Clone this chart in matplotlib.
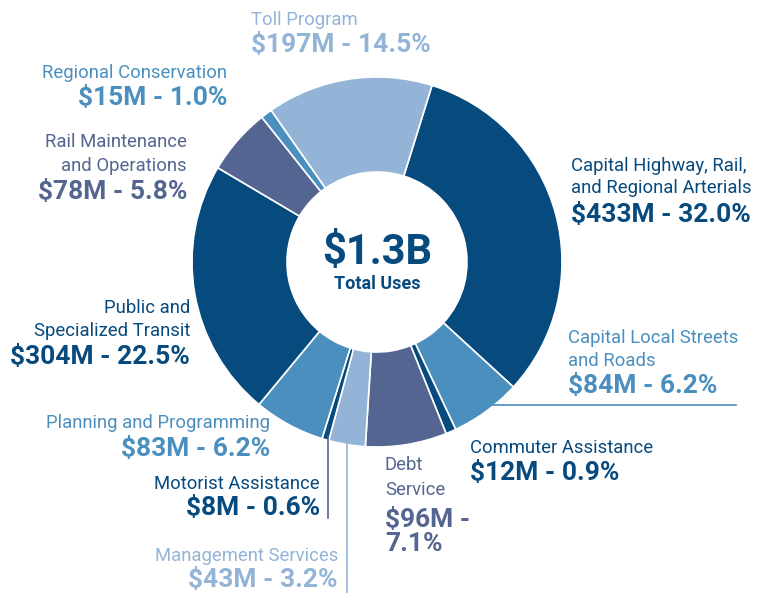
import matplotlib.pyplot as plt
from matplotlib import font_manager

# donut data, clockwise from the top
labels = ["Capital Highway, Rail,\nand Regional Arterials", "Capital Local Streets\nand Roads",
          "Commuter Assistance", "Debt\nService", "Management Services", "Motorist Assistance",
          "Planning and Programming", "Public and\nSpecialized Transit",
          "Rail Maintenance\nand Operations", "Regional Conservation", "Toll Program"]
amounts = ["$433M", "$84M", "$12M", "$96M", "$43M", "$8M", "$83M", "$304M", "$78M", "$15M", "$197M"]
shares = [32.0, 6.2, 0.9, 7.1, 3.2, 0.6, 6.2, 22.5, 5.8, 1.0, 14.5]

NAVY = "#074a7d"
MID = "#4a8fbe"
LIGHT = "#93b4d6"
SLATE = "#536590"
colors = [NAVY, MID, NAVY, SLATE, LIGHT, NAVY, MID, NAVY, SLATE, MID, LIGHT]

names = {f.name for f in font_manager.fontManager.ttflist}
fam = "Liberation Sans Narrow" if "Liberation Sans Narrow" in names else "Roboto"
plt.rcParams['font.family'] = [fam, 'DejaVu Sans']

W, H = 762, 593
fig = plt.figure(figsize=(W / 100, H / 100), dpi=100)
ax = fig.add_axes([0, 0, 1, 1])

cx, cy = 377, H - 262
ax.pie(shares, colors=colors, startangle=72.7, counterclock=False,
       center=(cx, cy), radius=185, frame=True,
       wedgeprops=dict(width=95, edgecolor='white', linewidth=1.2))
ax.set_xlim(0, W)
ax.set_ylim(0, H)
ax.set_aspect('equal')
ax.axis('off')

ax.text(cx, H - 252, "$1.3B", ha='center', va='center', fontsize=30, fontweight='bold', color=NAVY)
ax.text(cx, H - 284, "Total Uses", ha='center', va='center', fontsize=13, fontweight='bold', color=NAVY)

# label placement: x, alignment, y of each line (pixels from top)
place = [
    (571, 'left', [166, 188], 215),
    (568, 'left', [338, 361], 386),
    (470, 'left', [448], 473),
    (385, 'left', [465, 490], 532),
    (338, 'right', [556], 580),
    (320, 'right', [484], 508),
    (270, 'right', [423], 449),
    (190, 'right', [308, 331], 357),
    (187, 'right', [142, 166], 192),
    (227, 'right', [73], 98),
    (251, 'left', [20], 45),
]

for lab, amt, sh, col, (x, ha, ys, yv) in zip(labels, amounts, shares, colors, place):
    for line, y in zip(lab.split("\n"), ys):
        ax.text(x, H - y, line, ha=ha, va='center', fontsize=13.3, color=col)
    if lab.startswith("Debt"):
        val = "%s -\n%.1f%%" % (amt, sh)
    else:
        val = "%s - %.1f%%" % (amt, sh)
    ax.text(x, H - yv, val, ha=ha, va='center', fontsize=19, fontweight='bold',
            color=col, linespacing=1.05)

# leader lines
ax.plot([493, 736], [H - 405, H - 405], color=MID, lw=1.2)
ax.plot([328, 328], [H - 437, H - 518], color=SLATE, lw=1.2)
ax.plot([347, 347], [H - 433, 0], color=LIGHT, lw=1.2)

fig.savefig("out.png", dpi=100)
